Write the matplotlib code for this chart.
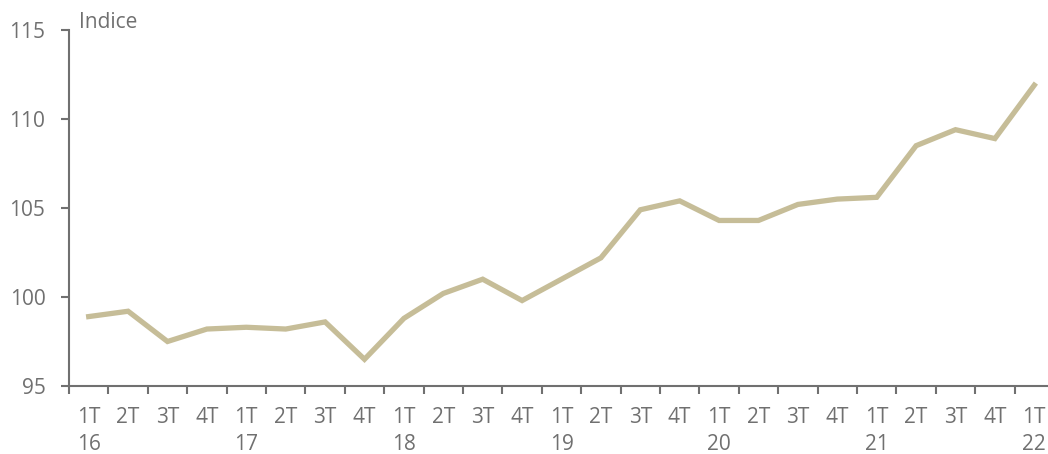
import numpy as np
import matplotlib.pyplot as plt

plt.rcParams['font.family'] = ['Open Sans', 'DejaVu Sans']
grey = '#707070'
fonts = 15

quarters = ['1T', '2T', '3T', '4T']
years = ['16', '17', '18', '19', '20', '21', '22']
values = [98.9, 99.2, 97.5, 98.2, 98.3, 98.2, 98.6, 96.5,
          98.8, 100.2, 101.0, 99.8, 101.0, 102.2, 104.9, 105.4,
          104.3, 104.3, 105.2, 105.5, 105.6, 108.5, 109.4, 108.9,
          111.9]

labels = []
for i in range(len(values)):
    q = quarters[i % 4]
    if i % 4 == 0:
        labels.append(q + '\n' + years[i // 4])
    else:
        labels.append(q)

x = np.arange(len(values))

fig = plt.figure(figsize=(10.48, 4.54), dpi=100)
ax = fig.add_axes([69/1048, 68/454, 985/1048, 356/454])
ax.plot(x, values, color='#C6BD98', linewidth=3.8, solid_joinstyle='miter')

ax.set_xlim(-0.5, len(values) - 0.5)
ax.set_ylim(95, 115)
ax.set_yticks([95, 100, 105, 110, 115])

ax.set_xticks(np.arange(-0.5, len(values), 1.0))
ax.set_xticklabels([])
ax.set_xticks(x, minor=True)
ax.set_xticklabels(labels, minor=True, fontsize=fonts, color=grey, linespacing=1.4, va='top')
ax.tick_params(axis='x', which='major', direction='out', length=6, width=1.5, color=grey)
ax.tick_params(axis='x', which='minor', length=0, pad=15)
ax.tick_params(axis='y', direction='out', length=6, width=1.5, color=grey,
               labelsize=fonts, labelcolor=grey, pad=11)

for s in ['top', 'right']:
    ax.spines[s].set_visible(False)
for s in ['left', 'bottom']:
    ax.spines[s].set_color(grey)
    ax.spines[s].set_linewidth(1.5)

fig.text(79/1048, 1 - 22/454, 'Indice', fontsize=fonts, color=grey, va='center', ha='left')

fig.savefig('out.png', dpi=100)
